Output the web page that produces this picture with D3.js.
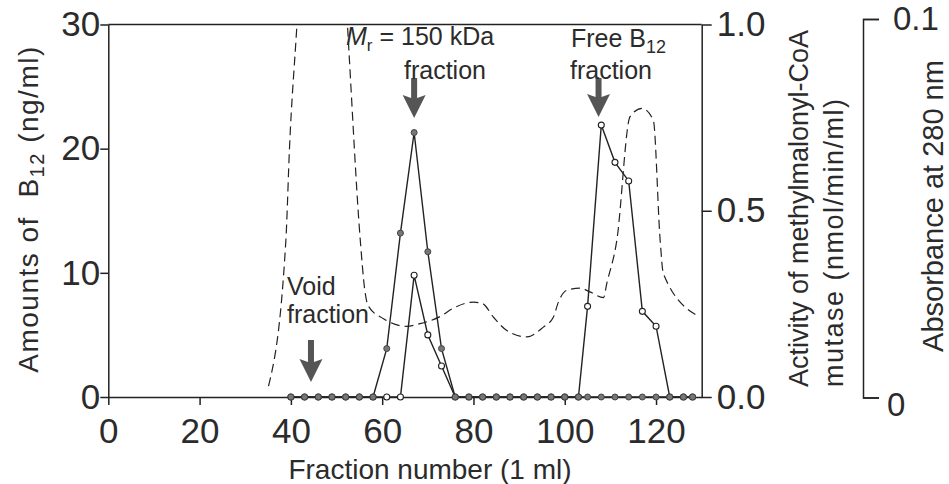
<!DOCTYPE html>
<html>
<head>
<meta charset="utf-8">
<script src="https://cdn.jsdelivr.net/npm/d3@7"></script>
<style>
  body { margin: 0; background: #fff; }
  text { font-family: "Liberation Sans", Arial, sans-serif; fill: #2b2b2b; }
</style>
</head>
<body>
<svg id="chart" width="949" height="484"></svg>
<script>
'use strict';

// fraction numbers that were assayed
const fractions = [40, 43, 46, 49, 52, 55, 58, 61, 64, 67, 70, 73, 76, 79, 82, 85, 88, 91,
  94, 97, 100, 103, 105, 108, 111, 114, 117, 120, 123, 126, 128];

// methylmalonyl-CoA mutase activity (nmol/min/ml), filled circles
const activity = [0, 0, 0, 0, 0, 0, 0, 0.13, 0.44, 0.71, 0.39, 0.13, 0, 0, 0, 0, 0, 0,
  0, 0, 0, 0, 0, 0, 0, 0, 0, 0, 0, 0, 0];

// amounts of B12 (ng/ml), open circles
const b12 = [0, 0, 0, 0, 0, 0, 0, 0, 0, 9.8, 5.0, 2.5, 0, 0, 0, 0, 0, 0,
  0, 0, 0, 0, 7.3, 21.9, 18.9, 17.4, 6.9, 5.7, 0, 0, 0];

// absorbance at 280 nm, dashed trace (peak near 47 runs off the top)
const absFraction = [35.1, 38.9, 39.7, 41.3, 47.0, 52.6, 55.2, 56.2, 56.9, 60.3, 65.4, 68.3,
  72.7, 75.6, 80.0, 82.0, 84.4, 87.3, 91.7, 95.3, 97.5, 98.6, 100.4, 103.4, 105.5, 108.5,
  109.2, 111.4, 114.3, 116.9, 119.4, 120.9, 121.6, 129.3];
const absValue = [0.003, 0.0415, 0.066, 0.098, 0.22, 0.094, 0.0416, 0.0283, 0.0243, 0.0208,
  0.0188, 0.0195, 0.0214, 0.0236, 0.0252, 0.0248, 0.0212, 0.0177, 0.016, 0.0186, 0.0212,
  0.0252, 0.0283, 0.0289, 0.0279, 0.0264, 0.0301, 0.0415, 0.0742, 0.0764, 0.0733, 0.0415,
  0.0327, 0.0214];

// tick labels
const xTicks = [0, 20, 40, 60, 80, 100, 120];
const leftTicks = [0, 10, 20, 30];
const rightTicks = [0, 0.5, 1.0];
const absTicks = [0, 0.1];

// geometry
const LEFT = 108.3;
const RIGHT = 701.7;
const TOP = 24.5;
const BOTTOM = 397;
const ABS_AXIS_X = 863;
const INK = '#222';

const svg = d3.select('#chart');

const x = d3.scaleLinear().domain([0, 130]).range([LEFT, RIGHT]);
const yLeft = d3.scaleLinear().domain([0, 30]).range([BOTTOM, TOP]);
const yRight = d3.scaleLinear().domain([0, 1]).range([BOTTOM, TOP]);
const yAbs = d3.scaleLinear().domain([0, 0.1]).range([397.5, 19]);

// стиль осей
const styleAxis = (g, size) => {
  g.selectAll('path, line').attr('stroke', INK).attr('stroke-width', 1.5);
  g.selectAll('text').attr('font-size', size).attr('fill', '#333')
    .attr('font-family', '"Liberation Sans", Arial, sans-serif');
}

// top frame line
svg.append('line')
  .attr('x1', x(0)).attr('x2', x(130))
  .attr('y1', TOP).attr('y2', TOP)
  .attr('stroke', INK).attr('stroke-width', 1.5);

const gx = svg.append('g')
  .attr('transform', `translate(0,${BOTTOM})`)
  .call(d3.axisBottom(x).tickValues(xTicks).tickSizeInner(8).tickSizeOuter(0).tickPadding(13));
styleAxis(gx, 35);

const gl = svg.append('g')
  .attr('transform', `translate(${LEFT},0)`)
  .call(d3.axisLeft(yLeft).tickValues(leftTicks).tickSizeInner(8).tickSizeOuter(0).tickPadding(0));
styleAxis(gl, 35);

const gr = svg.append('g')
  .attr('transform', `translate(${RIGHT},0)`)
  .call(d3.axisRight(yRight).tickValues(rightTicks).tickFormat(d3.format('.1f'))
    .tickSizeInner(10).tickSizeOuter(0).tickPadding(5));
styleAxis(gr, 35);

const ga = svg.append('g')
  .attr('transform', `translate(${ABS_AXIS_X},0)`)
  .call(d3.axisRight(yAbs).tickValues(absTicks).tickFormat(d => d === 0 ? '0' : d)
    .tickSizeInner(16).tickSizeOuter(16).tickPadding(8));
styleAxis(ga, 33);
ga.selectAll('.tick text').filter(d => d === 0).attr('dy', '0.55em');
ga.selectAll('.tick text').filter(d => d !== 0).attr('dx', 6);

// clip for the absorbance trace
svg.append('clipPath').attr('id', 'plot-clip')
  .append('rect')
  .attr('x', LEFT).attr('y', TOP)
  .attr('width', RIGHT - LEFT).attr('height', BOTTOM - TOP);

const absLine = d3.line()
  .x((d, i) => x(absFraction[i]))
  .y(d => yAbs(d))
  .curve(d3.curveMonotoneX);

svg.append('path')
  .attr('d', absLine(absValue))
  .attr('clip-path', 'url(#plot-clip)')
  .attr('fill', 'none')
  .attr('stroke', INK)
  .attr('stroke-width', 1.2)
  .attr('stroke-dasharray', '9,5');

// B12 line (open circles)
const b12Line = d3.line()
  .x((d, i) => x(fractions[i]))
  .y(d => yLeft(d));
svg.append('path')
  .attr('d', b12Line(b12))
  .attr('fill', 'none').attr('stroke', INK).attr('stroke-width', 1.4);

// activity line (filled circles)
const actLine = d3.line()
  .x((d, i) => x(fractions[i]))
  .y(d => yRight(d));
svg.append('path')
  .attr('d', actLine(activity))
  .attr('fill', 'none').attr('stroke', INK).attr('stroke-width', 1.4);

svg.append('g').selectAll('circle')
  .data(b12)
  .enter()
  .append('circle')
  .attr('cx', (d, i) => x(fractions[i]))
  .attr('cy', d => yLeft(d))
  .attr('r', 3)
  .attr('fill', '#fff')
  .attr('stroke', INK)
  .attr('stroke-width', 1.1);

svg.append('g').selectAll('circle')
  .data(activity)
  .enter()
  .append('circle')
  .attr('cx', (d, i) => x(fractions[i]))
  .attr('cy', d => yRight(d))
  .attr('r', 3)
  .attr('fill', '#777')
  .attr('stroke', '#444')
  .attr('stroke-width', 1);

// стрелки
const drawArrow = (cx, top, tip) => {
  const headTop = tip - 23;
  const p = `M${cx - 3},${top} L${cx + 3},${top} L${cx + 3},${headTop + 3}` +
    ` L${cx + 11.5},${headTop} L${cx},${tip} L${cx - 11.5},${headTop}` +
    ` L${cx - 3},${headTop + 3} Z`;
  svg.append('path').attr('d', p).attr('fill', '#555');
}

drawArrow(x(67), 78, 118);
drawArrow(x(107.4), 78, 117);
drawArrow(x(44.4), 340, 382);

// подписи фракций
const ANN = 25;

const mr = svg.append('text').attr('x', 346).attr('y', 45).attr('font-size', ANN);
mr.append('tspan').attr('font-style', 'italic').text('M');
mr.append('tspan').attr('font-size', 17).attr('dy', 6).text('r');
mr.append('tspan').attr('dy', -6).text(' = 150 kDa');
svg.append('text').attr('x', 445).attr('y', 79).attr('font-size', ANN)
  .attr('text-anchor', 'middle').text('fraction');

const fb = svg.append('text').attr('x', 571).attr('y', 47).attr('font-size', ANN);
fb.append('tspan').text('Free B');
fb.append('tspan').attr('font-size', 18).attr('dy', 6).text('12');
svg.append('text').attr('x', 570).attr('y', 79).attr('font-size', ANN).text('fraction');

svg.append('text').attr('x', 287).attr('y', 295).attr('font-size', ANN).text('Void');
svg.append('text').attr('x', 287).attr('y', 323).attr('font-size', ANN).text('fraction');

// заголовки осей
svg.append('text')
  .attr('x', 430).attr('y', 479)
  .attr('font-size', 28)
  .attr('text-anchor', 'middle')
  .text('Fraction number (1 ml)');

const lt = svg.append('text')
  .attr('transform', 'translate(38,209) rotate(-90)')
  .attr('font-size', 28)
  .attr('letter-spacing', 1.5)
  .attr('text-anchor', 'middle')
  .attr('xml:space', 'preserve');
lt.append('tspan').text('Amounts of  B');
lt.append('tspan').attr('font-size', 20).attr('dy', 6).text('12');
lt.append('tspan').attr('dy', -6).text(' (ng/ml)');

svg.append('text')
  .attr('transform', 'translate(808,387) rotate(-90)')
  .attr('font-size', 27)
  .text('Activity of methylmalonyl-CoA');
svg.append('text')
  .attr('transform', 'translate(843,387) rotate(-90)')
  .attr('font-size', 27)
  .attr('letter-spacing', 1.5)
  .text('mutase (nmol/min/ml)');

svg.append('text')
  .attr('transform', 'translate(943,206) rotate(-90)')
  .attr('font-size', 29)
  .attr('text-anchor', 'middle')
  .text('Absorbance at 280 nm');
</script>
</body>
</html>
